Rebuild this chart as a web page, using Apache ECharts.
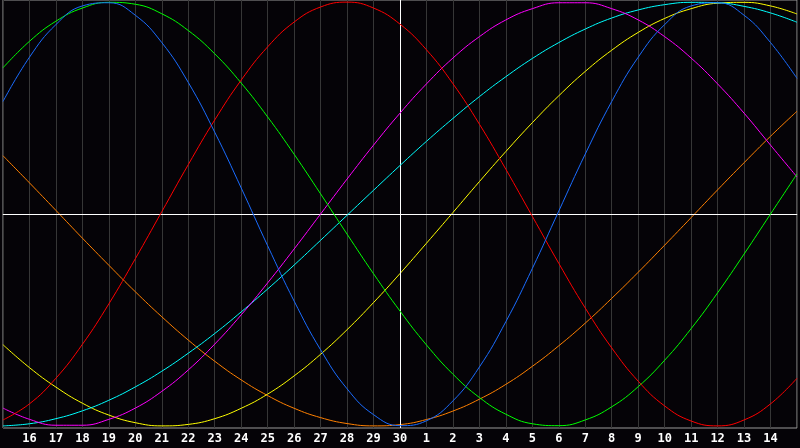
<!DOCTYPE html>
<html>
<head>
<meta charset="utf-8">
<script src="https://cdn.jsdelivr.net/npm/echarts@6/dist/echarts.min.js"></script>
<style>
html,body{margin:0;padding:0;background:#050307;}
#chart{width:800px;height:448px;}
</style>
</head>
<body>
<div id="chart"></div>
<script>
// Day labels along the bottom (15th of one month to 15th of the next)
var days = ['15','16','17','18','19','20','21','22','23','24','25','26','27','28','29','30',
            '1','2','3','4','5','6','7','8','9','10','11','12','13','14','15'];
var todayIndex = 15;

// Values (percent, -100..100) read per day from the picture
var physical = [53.1,74.0,89.4,98.2,99.7,93.8,80.9,62.1,38.6,12.3,-15.0,-41.1,-64.1,-82.5,-94.7,-99.9,
                -97.6,-88.2,-72.2,-50.8,-25.7,1.4,28.3,53.1,74.0,89.4,98.2,99.7,93.8,80.9,64.0];
var emotional = [-97.2,-89.6,-77.5,-61.5,-42.4,-21.1,1.1,23.3,44.4,63.2,78.9,90.6,97.7,100.0,97.2,89.6,
                 77.5,61.5,42.4,21.1,-1.1,-23.3,-44.4,-63.2,-78.9,-90.6,-97.7,-100.0,-97.2,-89.6,-77.5];
var intellectual = [69.0,81.5,91.0,97.2,99.9,99.0,94.5,86.6,75.6,61.8,45.8,28.2,9.5,-9.5,-28.2,-45.8,
                    -61.8,-75.6,-86.6,-94.5,-99.0,-99.9,-97.2,-91.0,-81.5,-69.0,-54.1,-37.2,-18.9,0.0,18.9];
var intuitive = [-91.6,-96.9,-99.7,-99.7,-96.9,-91.6,-83.7,-73.6,-61.4,-47.6,-32.5,-16.5,0.0,16.5,32.5,47.6,
                 61.4,73.6,83.7,91.6,96.9,99.7,99.7,96.9,91.6,83.7,73.6,61.4,47.6,32.5,17.5];
var aesthetic = [-61.7,-72.5,-81.7,-89.3,-94.9,-98.5,-100.0,-99.3,-96.6,-91.7,-85.0,-76.4,-66.2,-54.6,-41.8,-28.1,
                 -13.8,0.7,15.3,29.5,43.1,55.8,67.3,77.3,85.7,92.3,96.9,99.5,99.9,98.2,94.4];
var awareness = [27.5,14.7,1.7,-11.4,-24.2,-36.7,-48.5,-59.5,-69.5,-78.3,-85.7,-91.7,-96.1,-98.9,-100.0,-99.4,
                 -97.0,-93.0,-87.4,-80.4,-71.9,-62.2,-51.5,-39.8,-27.5,-14.7,-1.7,11.4,24.2,36.7,48.5];
var spiritual = [-100.0,-99.0,-96.6,-92.9,-87.9,-81.6,-74.2,-65.7,-56.4,-46.2,-35.4,-24.1,-12.4,-0.6,11.2,22.9,
                 34.3,45.1,55.4,64.8,73.4,80.9,87.3,92.5,96.3,98.8,99.9,99.7,98.0,94.9,90.5];

var seriesDefs = [
  {name:'Awareness', data:awareness, color:'#ff8000'},
  {name:'Aesthetic', data:aesthetic, color:'#ffff00'},
  {name:'Spiritual', data:spiritual, color:'#00ffff'},
  {name:'Intuitive', data:intuitive, color:'#ff00ff'},
  {name:'Intellectual', data:intellectual, color:'#00ff00'},
  {name:'Emotional', data:emotional, color:'#ff0000'},
  {name:'Physical', data:physical, color:'#1a6cff'}
];

var chart = echarts.init(document.getElementById('chart'), null, {renderer:'canvas'});
var series = seriesDefs.map(function(s, i){
  return {
    name: s.name, type:'line', data:s.data, smooth:0.45, showSymbol:false, symbol:'none',
    lineStyle:{color:s.color, width:1}, itemStyle:{color:s.color}, z: 3 + i, silent:true
  };
});
series.push({
  type:'line', data:[], silent:true, z: 2,
  markLine:{
    silent:true, symbol:['none','none'], label:{show:false},
    lineStyle:{color:'#ffffff', width:1, type:'solid'},
    data:[{xAxis: todayIndex}, {yAxis: 0}]
  }
});

chart.setOption({
  animation:false,
  backgroundColor:'#050307',
  grid:{left:0, right:1, top:0, bottom:20, show:true, borderColor:'#9a9a9a', borderWidth:1, backgroundColor:'#050307'},
  xAxis:{
    type:'category', data:days, boundaryGap:false,
    axisLine:{show:true, lineStyle:{color:'#9a9a9a'}},
    axisTick:{show:false},
    splitLine:{show:true, interval:0, lineStyle:{color:'#363636', width:1}},
    axisLabel:{
      interval:0, color:'#ffffff', fontWeight:'bold', fontSize:12, fontFamily:'DejaVu Sans Mono, monospace', margin:5,
      formatter:function(v, idx){ return (idx===0 || idx===days.length-1) ? '' : v; }
    }
  },
  yAxis:{
    type:'value', min:-101, max:101,
    axisLine:{show:false}, axisTick:{show:false}, axisLabel:{show:false}, splitLine:{show:false}
  },
  series: series
});
</script>
</body>
</html>
